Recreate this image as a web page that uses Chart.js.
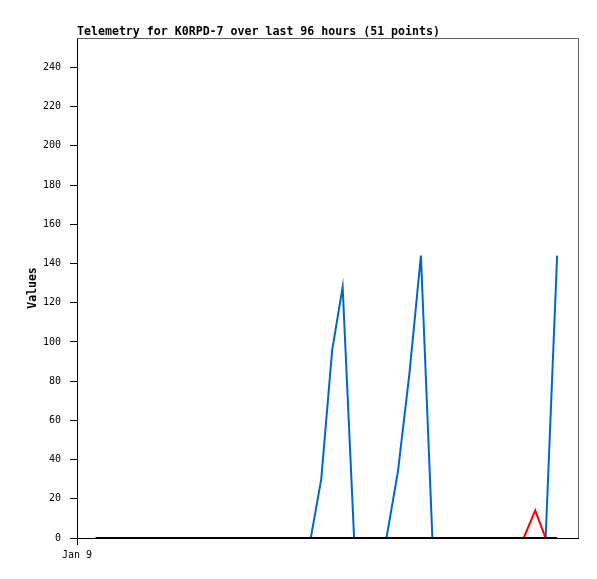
<!DOCTYPE html>
<html>
<head>
<meta charset="utf-8">
<script src="https://cdn.jsdelivr.net/npm/chart.js@4/dist/chart.umd.min.js"></script>
<style>
  html, body { margin: 0; padding: 0; background: #fff; }
  #wrap { width: 597px; height: 579px; }
</style>
</head>
<body>
<div id="wrap"><canvas id="myChart" width="597" height="579"></canvas></div>
<script>
// hours since Jan 9 00:00
const baseHours = [3.6, 92.0];
const baseValues = [0, 0];

const redHours = [3.6, 85.6, 87.8, 89.8];
const redValues = [0, 0, 14, 0];

const blueHours = [3.6, 44.8, 46.8, 48.9, 50.9, 53.1, 59.3, 61.5, 63.7, 65.9, 68.1, 89.8, 92.0];
const blueValues = [0, 0, 30, 96, 128, 0, 0, 34, 84, 144, 0, 0, 144];

const yTicks = [0, 20, 40, 60, 80, 100, 120, 140, 160, 180, 200, 220, 240];
const xTickLabel = "Jan 9";

const toPoints = (xs, ys) => xs.map((x, i) => ({ x: x, y: ys[i] }));

const frame = {
  id: "frame",
  afterDraw(chart) {
    const ctx = chart.ctx;
    const a = chart.chartArea;
    ctx.save();
    // grey top and right edges of the plot box
    ctx.strokeStyle = "#606060";
    ctx.lineWidth = 1;
    ctx.beginPath();
    ctx.moveTo(a.left, a.top + 0.5);
    ctx.lineTo(a.right + 0.5, a.top + 0.5);
    ctx.lineTo(a.right + 0.5, a.bottom);
    ctx.stroke();
    // title
    ctx.fillStyle = "#000";
    ctx.font = "bold 11.6px 'DejaVu Sans Mono'";
    ctx.textBaseline = "alphabetic";
    ctx.fillText("Telemetry for K0RPD-7 over last 96 hours (51 points)", a.left, 35);
    ctx.restore();
  }
};

var ctx = document.getElementById("myChart").getContext("2d");
var chart = new Chart(ctx, {
  type: "line",
  data: {
    datasets: [
      {
        label: "base",
        data: toPoints(baseHours, baseValues),
        borderColor: "#000000",
        borderWidth: 2
      },
      {
        label: "red",
        data: toPoints(redHours, redValues),
        borderColor: "#ff0000",
        borderWidth: 2
      },
      {
        label: "blue",
        data: toPoints(blueHours, blueValues),
        borderColor: "#0066cc",
        borderWidth: 2
      }
    ]
  },
  options: {
    responsive: false,
    animation: false,
    layout: { padding: { top: 38, right: 19, left: 0, bottom: 0 } },
    elements: { point: { radius: 0 }, line: { tension: 0 } },
    plugins: {
      legend: { display: false },
      title: { display: false },
      tooltip: { enabled: false }
    },
    scales: {
      x: {
        type: "linear",
        min: 0,
        max: 96,
        border: { display: true, color: "#000", width: 1 },
        grid: { drawOnChartArea: false, color: "#000", tickLength: 7 },
        ticks: {
          padding: 4,
          color: "#000",
          font: { family: "'DejaVu Sans Mono'", size: 10 },
          callback: () => xTickLabel
        },
        afterBuildTicks: scale => { scale.ticks = [{ value: 0 }]; },
        afterFit: scale => { scale.height = 41; }
      },
      y: {
        min: 0,
        max: 255,
        border: { display: true, color: "#000", width: 1 },
        grid: { drawOnChartArea: false, color: "#000", tickLength: 7 },
        ticks: {
          padding: 9,
          color: "#000",
          font: { family: "'DejaVu Sans Mono'", size: 10 }
        },
        afterBuildTicks: scale => { scale.ticks = yTicks.map(v => ({ value: v })); },
        afterFit: scale => { scale.width = 77; },
        title: {
          display: true,
          text: "Values",
          color: "#000",
          font: { family: "'DejaVu Sans Mono'", size: 11.5, weight: "bold" },
          padding: { top: 26, bottom: 0 }
        }
      }
    }
  },
  plugins: [frame]
});
</script>
</body>
</html>
